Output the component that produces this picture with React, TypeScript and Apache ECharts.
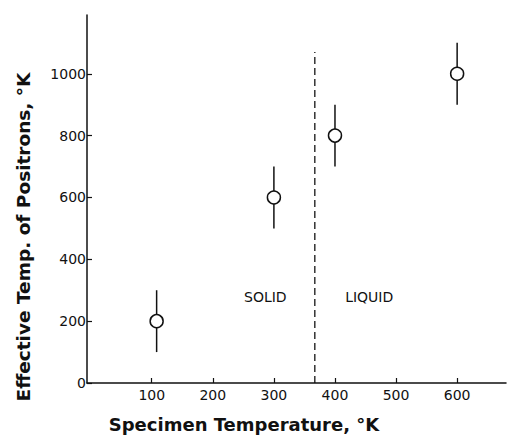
import React, { useEffect, useRef } from "react";
import * as echarts from "echarts";

const xTicks = [100, 200, 300, 400, 500, 600];
const yTicks = [0, 200, 400, 600, 800, 1000];
const specimenTemp = [108, 300, 400, 600];
const effectiveTemp = [200, 600, 800, 1000];
const errLow = [100, 500, 700, 900];
const errHigh = [300, 700, 900, 1100];
const meltingPoint = 367;
const meltingLineTop = 1070;
const phaseLabels = ["SOLID", "LIQUID"];
const phaseX = [286, 456];
const phaseY = [277, 277];

const INK = "#111";
const FONT = "DejaVu Sans";

export default function App() {
  const ref = useRef<HTMLDivElement>(null);
  useEffect(() => {
    const chart = echarts.init(ref.current!, null, { renderer: "svg" });
    chart.setOption({
      animation: false,
      backgroundColor: "#fff",
      grid: { left: 87, right: 1, top: 15, bottom: 54, containLabel: false },
      xAxis: {
        type: "value",
        min: -6,
        max: 680,
        axisLine: { show: true, onZero: false, lineStyle: { color: INK, width: 1.5 } },
        axisTick: { show: true, inside: true, length: 5, customValues: xTicks, lineStyle: { color: INK, width: 1.2 } },
        axisLabel: { customValues: xTicks, color: INK, fontSize: 14, fontFamily: FONT, margin: 5, formatter: (v: number) => String(v) },
        splitLine: { show: false },
      },
      yAxis: {
        type: "value",
        min: 0,
        max: 1190,
        axisLine: { show: true, onZero: false, lineStyle: { color: INK, width: 1.5 } },
        axisTick: { show: true, inside: true, length: 5, customValues: yTicks, lineStyle: { color: INK, width: 1.2 } },
        axisLabel: { customValues: yTicks, color: INK, fontSize: 14, fontFamily: FONT, margin: 1, formatter: (v: number) => String(v) },
        splitLine: { show: false },
      },
      graphic: [
        {
          type: "text",
          x: 23,
          y: 237,
          rotation: Math.PI / 2,
          style: {
            text: "Effective Temp. of Positrons, °K",
            font: `bold 18.5px '${FONT}'`,
            fill: INK,
            align: "center",
            verticalAlign: "middle",
          },
        },
        {
          type: "text",
          x: 244,
          y: 424,
          style: {
            text: "Specimen Temperature, °K",
            font: `bold 18px '${FONT}'`,
            fill: INK,
            align: "center",
            verticalAlign: "middle",
          },
        },
      ],
      series: [
        {
          type: "line",
          data: [
            [meltingPoint, 0],
            [meltingPoint, meltingLineTop],
          ],
          symbol: "none",
          lineStyle: { color: INK, width: 1.3, type: [7, 4] },
          z: 1,
        },
        {
          type: "custom",
          data: specimenTemp.map((x, i) => [x, errLow[i], errHigh[i]]),
          encode: { x: 0, y: [1, 2] },
          renderItem: (params: any, api: any) => {
            const lo = api.coord([api.value(0), api.value(1)]);
            const hi = api.coord([api.value(0), api.value(2)]);
            return {
              type: "line",
              shape: { x1: lo[0], y1: lo[1], x2: hi[0], y2: hi[1] },
              style: { stroke: INK, lineWidth: 1.5 },
            };
          },
          z: 2,
        },
        {
          type: "scatter",
          data: specimenTemp.map((x, i) => [x, effectiveTemp[i]]),
          symbol: "circle",
          symbolSize: 13,
          itemStyle: { color: "#fff", borderColor: INK, borderWidth: 1.5, opacity: 1 },
          z: 3,
        },
        {
          type: "scatter",
          data: phaseLabels.map((n, i) => ({ name: n, value: [phaseX[i], phaseY[i]] })),
          symbolSize: 1,
          itemStyle: { color: "rgba(0,0,0,0)", opacity: 1 },
          label: {
            show: true,
            position: "inside",
            formatter: (p: any) => p.name,
            color: INK,
            fontSize: 14,
            fontFamily: FONT,
            textBorderWidth: 0,
            opacity: 1,
          },
          z: 4,
        },
      ],
    });
    return () => chart.dispose();
  }, []);
  return (
    <div
      ref={ref}
      style={{ position: "fixed", left: 0, top: 0, width: 507, height: 437 }}
    />
  );
}
